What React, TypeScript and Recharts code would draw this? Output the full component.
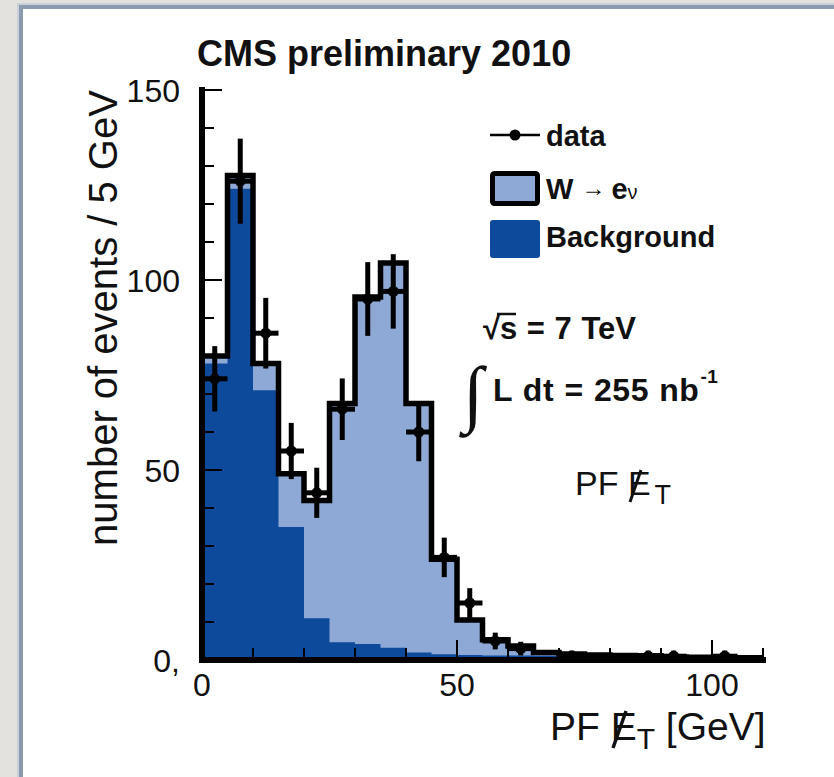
import React from 'react';
import {
  ComposedChart,
  Area,
  Line,
  Scatter,
  ErrorBar,
  XAxis,
  YAxis,
  Legend,
} from 'recharts';

// Lower edges of the 5 GeV bins in PF missing ET
const binEdges = [0, 5, 10, 15, 20, 25, 30, 35, 40, 45, 50, 55, 60, 65, 70, 75, 80, 85, 90, 95, 100, 105];
const binWidth = 5;
const xMax = 110;

// Expected events per bin: W -> e nu signal stacked on background
const signalPlusBackground = [80, 127.5, 78, 49, 42, 67.5, 95.5, 104.5, 67.5, 26.5, 10.5, 5.3, 3.7, 2, 1.6, 1.3, 1.2, 1.1, 0.8, 0.7, 0.6, 0.6];
// Expected background events per bin
const background = [78, 124, 71, 35, 11, 4.7, 4.2, 3.2, 2, 1.5, 1.3, 1.2, 1.2, 1.1, 1.1, 1.1, 1, 0.4, 0.4, 0.3, 0.3, 0.3];

// Observed events per bin and their uncertainties
const dataCounts = [74, 126, 86, 55, 44, 66, 95, 97, 60, 27, 15, 5, 3, 0, 1, 0, 0, 1, 1, 0, 1, 0];
const dataErrors = [8.6, 11.2, 9.3, 7.4, 6.6, 8.1, 9.7, 9.8, 7.7, 5.2, 3.9, 2.2, 1.8, 0, 1.5, 0, 0, 1.5, 1.5, 0, 1.5, 0];

// Axis ticks
const xTicks = [0, 10, 20, 30, 40, 50, 60, 70, 80, 90, 100, 110];
const yTicks = [0, 10, 20, 30, 40, 50, 60, 70, 80, 90, 100, 110, 120, 130, 140, 150];
const xLabelStep = 50;
const yLabelStep = 50;

const legendEntries = ['data', 'W', '\u2192', 'e', '\u03bd', 'Background'];

const LIGHT = '#8ea9d6';
const DARK = '#0e4a9b';
const INK = '#111';
const FONT = '"Liberation Sans", Arial, Helvetica, sans-serif';

// Histogram rows at bin edges; the final edge repeats the last bin so the step closes at xMax
const histRows = [...binEdges, xMax].map((x, i) => {
  const k = Math.min(i, binEdges.length - 1);
  return { x, total: signalPlusBackground[k], bkg: background[k] };
});

const dataPoints = binEdges
  .map((lo, i) => ({ x: lo + binWidth / 2, y: dataCounts[i], ey: dataErrors[i], ex: binWidth / 2 }))
  .filter((d) => d.y > 0);

const frameLine = { stroke: '#000', strokeWidth: 6, strokeLinecap: 'square' as const };

const MAJOR = 20;
const MINOR = 12;

function BottomTick(p: any) {
  const v = p.payload.value;
  const major = v % xLabelStep === 0;
  return (
    <g>
      <line x1={p.x} x2={p.x} y1={p.y} y2={p.y - (major ? MAJOR : MINOR)} stroke="#000" strokeWidth={2} />
      {major && v <= 100 && (
        <text x={p.x} y={p.y + 36} textAnchor="middle" fontFamily={FONT} fontSize={32} fill={INK}>
          {v}
        </text>
      )}
    </g>
  );
}

function TopTick(p: any) {
  const v = p.payload.value;
  const major = v % xLabelStep === 0;
  return <line x1={p.x} x2={p.x} y1={p.y} y2={p.y + (major ? MAJOR : MINOR)} stroke="#000" strokeWidth={2} />;
}

function LeftTick(p: any) {
  const v = p.payload.value;
  const major = v % yLabelStep === 0;
  return (
    <g>
      <line x1={p.x} x2={p.x + (major ? MAJOR : MINOR)} y1={p.y} y2={p.y} stroke="#000" strokeWidth={2} />
      {major && (
        <text x={p.x - 22} y={p.y + 12} textAnchor="end" fontFamily={FONT} fontSize={32} fill={INK}>
          {v === 0 ? '0,' : v}
        </text>
      )}
    </g>
  );
}

function RightTick(p: any) {
  const v = p.payload.value;
  const major = v % yLabelStep === 0;
  return <line x1={p.x} x2={p.x - (major ? MAJOR : MINOR)} y1={p.y} y2={p.y} stroke="#000" strokeWidth={2} />;
}

function LegendBox() {
  return (
    <svg width={260} height={160} style={{ display: 'block', overflow: 'visible' }}>
      <g fontFamily={FONT} fontWeight="bold" fontSize={29} fill={INK}>
        <line x1={10} x2={60} y1={20} y2={20} stroke="#000" strokeWidth={2.5} />
        <circle cx={35} cy={20} r={5.5} fill="#000" />
        <text x={66} y={31}>{legendEntries[0]}</text>

        <rect x={12.5} y={58.5} width={45} height={30} fill={LIGHT} stroke="#000" strokeWidth={5} rx={2} />
        <text x={66} y={84}>
          <tspan>{legendEntries[1]}</tspan>
          <tspan dx={8} dy={-3} fontWeight="normal" fontSize={24}>{legendEntries[2]}</tspan>
          <tspan dx={6} dy={3}>{legendEntries[3]}</tspan>
          <tspan fontWeight="normal" fontSize={20}>{legendEntries[4]}</tspan>
        </text>

        <rect x={10} y={105} width={50} height={38} fill={DARK} rx={3} />
        <text x={66} y={132}>{legendEntries[5]}</text>
      </g>
    </svg>
  );
}

export default function App() {
  return (
    <div
      style={{
        position: 'absolute',
        left: 0,
        top: 0,
        width: 834,
        height: 777,
        overflow: 'hidden',
        background: '#e4e2de',
      }}
    >
      <div
        style={{
          position: 'absolute',
          left: 19,
          top: 5,
          width: 840,
          height: 800,
          background: '#fff',
          borderLeft: '4px solid #8c9cb0',
          borderTop: '4px solid #8c9cb0',
          boxShadow: '-2px -2px 0 #c9d0d8',
        }}
      />
      <div style={{ position: 'absolute', left: 0, top: 0 }}>
        <ComposedChart
          width={834}
          height={777}
          data={histRows}
          margin={{ top: 90, right: 71, bottom: 57, left: 0 }}
        >
          <Area
            type="stepAfter"
            dataKey="total"
            fill={LIGHT}
            fillOpacity={1}
            stroke="none"
            isAnimationActive={false}
          />
          <Area
            type="stepAfter"
            dataKey="bkg"
            fill={DARK}
            fillOpacity={1}
            stroke="none"
            isAnimationActive={false}
          />
          <Line
            type="stepAfter"
            dataKey="total"
            stroke="#000"
            strokeWidth={5.5}
            dot={false}
            isAnimationActive={false}
          />
          <Scatter
            data={dataPoints}
            dataKey="y"
            fill="#000"
            isAnimationActive={false}
            shape={(p: any) => <circle cx={p.cx} cy={p.cy} r={5.5} fill="#000" />}
          >
            <ErrorBar dataKey="ey" direction="y" width={0} stroke="#000" strokeWidth={5} />
            <ErrorBar dataKey="ex" direction="x" width={0} stroke="#000" strokeWidth={5} />
          </Scatter>

          <XAxis
            dataKey="x"
            type="number"
            domain={[0, xMax]}
            ticks={xTicks}
            interval={0}
            height={60}
            tickSize={0}
            tickMargin={0}
            axisLine={frameLine}
            tickLine={false}
            tick={(p: any) => <BottomTick {...p} />}
            allowDataOverflow
          />
          <XAxis
            xAxisId="top"
            orientation="top"
            dataKey="x"
            type="number"
            domain={[0, xMax]}
            ticks={xTicks}
            interval={0}
            height={0}
            tickSize={0}
            tickMargin={0}
            axisLine={frameLine}
            tickLine={false}
            tick={(p: any) => <TopTick {...p} />}
            allowDataOverflow
          />
          <YAxis
            type="number"
            domain={[0, 150]}
            ticks={yTicks}
            interval={0}
            width={202}
            tickSize={0}
            tickMargin={0}
            axisLine={frameLine}
            tickLine={false}
            tick={(p: any) => <LeftTick {...p} />}
            allowDataOverflow
          />
          <YAxis
            yAxisId="right"
            orientation="right"
            type="number"
            domain={[0, 150]}
            ticks={yTicks}
            interval={0}
            width={0}
            tickSize={0}
            tickMargin={0}
            axisLine={frameLine}
            tickLine={false}
            tick={(p: any) => <RightTick {...p} />}
            allowDataOverflow
          />
          <Legend
            layout="vertical"
            align="center"
            verticalAlign="middle"
            wrapperStyle={{ position: 'absolute', left: 480, top: 115, width: 260, height: 160 }}
            content={() => <LegendBox />}
          />
        </ComposedChart>
      </div>

      <svg
        width={834}
        height={777}
        style={{ position: 'absolute', left: 0, top: 0, pointerEvents: 'none' }}
        fontFamily={FONT}
        fill={INK}
      >
        <text x={197} y={66} fontSize={36} fontWeight="bold">CMS preliminary 2010</text>

        <text transform="translate(117,318) rotate(-90)" textAnchor="middle" fontSize={40}>
          number of events / 5 GeV
        </text>

        {/* axis title: PF missing ET, the E carries a slash */}
        <text x={550} y={740} fontSize={39}>
          <tspan>PF E</tspan>
          <tspan dy={9} fontSize={30}>T</tspan>
          <tspan dy={-9}> [GeV]</tspan>
        </text>
        <line x1={613} y1={748} x2={626} y2={711} stroke={INK} strokeWidth={3.5} />

        <g fontWeight="bold" fontSize={31}>
          <text x={483} y={339} wordSpacing={1}>
            <tspan>{'\u221a'}</tspan>
            <tspan>s = 7 TeV</tspan>
          </text>
          <text x={493} y={401} fontSize={32} wordSpacing={1} letterSpacing={0.5}>
            L dt = 255 nb
            <tspan dx={1} dy={-18} fontSize={19}>-1</tspan>
          </text>
        </g>
        <line x1={497} y1={314} x2={516} y2={314} stroke={INK} strokeWidth={2.5} />
        <text
          x={463}
          y={418}
          fontFamily='"Liberation Serif", "DejaVu Serif", serif'
          fontSize={74}
        >
          {'\u222b'}
        </text>

        <text x={575} y={495} fontSize={34}>
          <tspan>PF E</tspan>
          <tspan dx={4} dy={9} fontSize={27}>T</tspan>
        </text>
        <line x1={630} y1={502} x2={641} y2={470} stroke={INK} strokeWidth={3} />
      </svg>
    </div>
  );
}
